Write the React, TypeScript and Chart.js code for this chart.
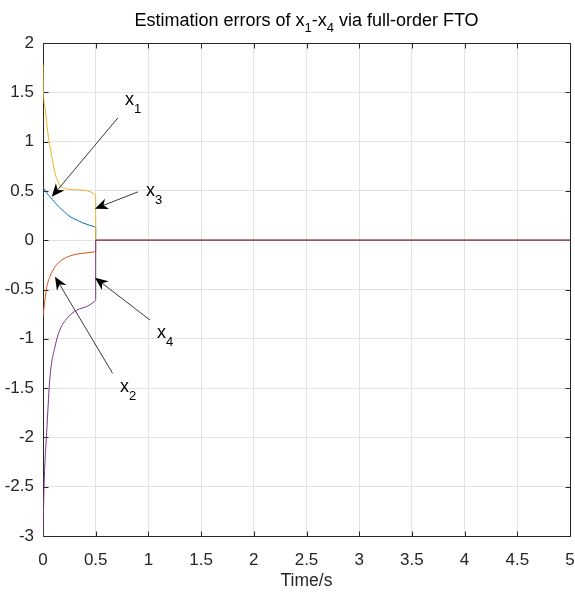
import React, { useEffect, useRef } from 'react';
import { Chart, registerables } from 'chart.js';

Chart.register(...registerables);

// ---- axis ticks ----
const X_TICKS = [0, 0.5, 1, 1.5, 2, 2.5, 3, 3.5, 4, 4.5, 5];
const Y_TICKS = [-3, -2.5, -2, -1.5, -1, -0.5, 0, 0.5, 1, 1.5, 2];

// ---- series (time in s, estimation error) ----
const T_X1 = [0, 0.004, 0.019, 0.047, 0.085, 0.114, 0.16, 0.23, 0.35, 0.45, 0.49, 0.5, 0.5, 5];
const V_X1 = [1.78, 1.52, 1.35, 1.08, 0.84, 0.68, 0.56, 0.52, 0.51, 0.49, 0.465, 0.455, 0, 0];

const T_X2 = [0, 0.035, 0.066, 0.114, 0.18, 0.285, 0.475, 0.5, 0.5, 5];
const V_X2 = [-0.77, -0.48, -0.37, -0.27, -0.2, -0.15, -0.12, -0.115, 0, 0];

const T_X3 = [0, 0.03, 0.066, 0.11, 0.16, 0.21, 0.256, 0.32, 0.38, 0.44, 0.49, 0.5, 0.5, 5];
const V_X3 = [0.54, 0.49, 0.44, 0.385, 0.33, 0.28, 0.24, 0.205, 0.175, 0.152, 0.136, 0.133, 0, 0];

const T_X4 = [0, 0.005, 0.012, 0.038, 0.066, 0.114, 0.16, 0.23, 0.32, 0.42, 0.49, 0.5, 0.5, 5];
const V_X4 = [-3.0, -2.72, -2.43, -1.89, -1.39, -1.08, -0.91, -0.79, -0.71, -0.67, -0.62, -0.61, 0, 0];

// ---- annotations (data coordinates) ----
const ARROW_NAMES = ['1', '3', '2', '4'];
const ARROW_TAIL_T = [0.71, 0.9, 0.66, 1.015];
const ARROW_TAIL_V = [1.24, 0.49, -1.35, -0.81];
const ARROW_HEAD_T = [0.083, 0.493, 0.114, 0.493];
const ARROW_HEAD_V = [0.44, 0.32, -0.37, -0.38];
const LABEL_T = [0.778, 0.977, 0.731, 1.082];
const LABEL_V = [1.372, 0.448, -1.539, -0.992];

const TITLE_PARTS: [string, boolean][] = [
  ['Estimation errors of x', false],
  ['1', true],
  ['-x', false],
  ['4', true],
  [' via full-order FTO', false],
];
const X_LABEL = 'Time/s';

const FONT = '"Liberation Sans", Arial, Helvetica, sans-serif';
const AX = '#262626';

const pts = (t: number[], v: number[]) => t.map((x, i) => ({ x, y: v[i] }));

const al = (v: number) => Math.round(v) + 0.5;

const decorPlugin = {
  id: 'decor',
  beforeDatasetsDraw(chart: any) {
    const ctx: CanvasRenderingContext2D = chart.ctx;
    const { left, right, top, bottom } = chart.chartArea;
    const xs = chart.scales.x;
    const ys = chart.scales.y;
    ctx.save();
    ctx.strokeStyle = AX;
    ctx.lineWidth = 1;
    ctx.beginPath();
    ctx.rect(al(left), al(top), Math.round(right) - Math.round(left), Math.round(bottom) - Math.round(top));
    ctx.stroke();
    const tl = 5;
    ctx.beginPath();
    X_TICKS.forEach((v) => {
      const p = al(xs.getPixelForValue(v));
      ctx.moveTo(p, al(bottom));
      ctx.lineTo(p, al(bottom) - tl);
      ctx.moveTo(p, al(top));
      ctx.lineTo(p, al(top) + tl);
    });
    Y_TICKS.forEach((v) => {
      const p = al(ys.getPixelForValue(v));
      ctx.moveTo(al(left), p);
      ctx.lineTo(al(left) + tl, p);
      ctx.moveTo(al(right), p);
      ctx.lineTo(al(right) - tl, p);
    });
    ctx.stroke();
    ctx.restore();
  },
  afterDraw(chart: any) {
    const ctx: CanvasRenderingContext2D = chart.ctx;
    const { left, right } = chart.chartArea;
    const xs = chart.scales.x;
    const ys = chart.scales.y;
    ctx.save();

    // title with subscripts
    const mainF = `18px ${FONT}`;
    const subF = `13px ${FONT}`;
    let w = 0;
    TITLE_PARTS.forEach(([s, sub]) => {
      ctx.font = sub ? subF : mainF;
      w += ctx.measureText(s).width;
    });
    let x = (left + right) / 2 - w / 2;
    const base = 26;
    ctx.fillStyle = '#000';
    ctx.textBaseline = 'alphabetic';
    ctx.textAlign = 'left';
    TITLE_PARTS.forEach(([s, sub]) => {
      ctx.font = sub ? subF : mainF;
      ctx.fillText(s, x, sub ? base + 6 : base);
      x += ctx.measureText(s).width;
    });

    // x label
    ctx.font = `17.5px ${FONT}`;
    ctx.fillStyle = AX;
    ctx.textAlign = 'center';
    ctx.fillText(X_LABEL, (left + right) / 2, 586);

    // arrows
    ARROW_NAMES.forEach((name, i) => {
      const tx = xs.getPixelForValue(ARROW_TAIL_T[i]);
      const ty = ys.getPixelForValue(ARROW_TAIL_V[i]);
      const hx = xs.getPixelForValue(ARROW_HEAD_T[i]);
      const hy = ys.getPixelForValue(ARROW_HEAD_V[i]);
      const dx = hx - tx;
      const dy = hy - ty;
      const len = Math.hypot(dx, dy);
      const ux = dx / len;
      const uy = dy / len;
      const px = -uy;
      const py = ux;
      const L = 13;
      const W = 5.5;
      const nx = hx - ux * L * 0.7;
      const ny = hy - uy * L * 0.7;
      ctx.strokeStyle = '#222';
      ctx.lineWidth = 0.9;
      ctx.beginPath();
      ctx.moveTo(tx, ty);
      ctx.lineTo(nx, ny);
      ctx.stroke();
      ctx.fillStyle = '#000';
      ctx.beginPath();
      ctx.moveTo(hx, hy);
      ctx.lineTo(hx - ux * L + px * W, hy - uy * L + py * W);
      ctx.lineTo(nx, ny);
      ctx.lineTo(hx - ux * L - px * W, hy - uy * L - py * W);
      ctx.closePath();
      ctx.fill();

      const lx = xs.getPixelForValue(LABEL_T[i]);
      const ly = ys.getPixelForValue(LABEL_V[i]);
      ctx.textAlign = 'left';
      ctx.fillStyle = '#000';
      ctx.font = `18px ${FONT}`;
      ctx.fillText('x', lx, ly);
      const xw = ctx.measureText('x').width;
      ctx.font = `13px ${FONT}`;
      ctx.fillText(name, lx + xw, ly + 8);
    });
    ctx.restore();
  },
};

export default function App() {
  const ref = useRef<HTMLCanvasElement>(null);
  useEffect(() => {
    document.body.style.margin = '0';
    const canvas = ref.current!;
    const line = (label: string, color: string, t: number[], v: number[]) => ({
      label,
      data: pts(t, v),
      borderColor: color,
      backgroundColor: color,
      borderWidth: 1,
      pointRadius: 0,
      fill: false,
      cubicInterpolationMode: 'monotone' as const,
    });
    const chart = new Chart(canvas, {
      type: 'line',
      data: {
        datasets: [
          line('x4', '#7E2F8E', T_X4, V_X4),
          line('x1', '#EDB120', T_X1, V_X1),
          line('x2', '#D95319', T_X2, V_X2),
          line('x3', '#0072BD', T_X3, V_X3),
        ],
      },
      options: {
        responsive: false,
        animation: false,
        devicePixelRatio: 1,
        parsing: false as any,
        layout: { padding: { top: 43, right: 5, left: 0, bottom: 0 } },
        plugins: {
          legend: { display: false },
          tooltip: { enabled: false },
          title: { display: false },
        },
        scales: {
          x: {
            type: 'linear',
            min: 0,
            max: 5,
            afterBuildTicks: (s: any) => {
              s.ticks = X_TICKS.map((value) => ({ value }));
            },
            afterFit: (s: any) => {
              s.height = 59;
              s.paddingLeft = 0;
              s.paddingRight = 0;
            },
            grid: { color: '#e3e3e3', drawTicks: false },
            border: { display: false },
            ticks: {
              font: { family: FONT, size: 17 },
              color: AX,
              padding: 14,
              maxRotation: 0,
              autoSkip: false,
              callback: (v: any) => String(v),
            },
          },
          y: {
            type: 'linear',
            min: -3,
            max: 2,
            afterBuildTicks: (s: any) => {
              s.ticks = Y_TICKS.map((value) => ({ value }));
            },
            afterFit: (s: any) => {
              s.width = 43;
              s.paddingTop = 0;
              s.paddingBottom = 0;
            },
            grid: { color: '#e3e3e3', drawTicks: false },
            border: { display: false },
            ticks: {
              font: { family: FONT, size: 17 },
              color: AX,
              padding: 9,
              autoSkip: false,
              callback: (v: any) => String(v),
            },
          },
        },
      },
      plugins: [decorPlugin],
    });
    return () => chart.destroy();
  }, []);
  return (
    <div style={{ width: 575, height: 595, background: '#fff' }}>
      <canvas ref={ref} width={575} height={595} style={{ display: 'block', width: 575, height: 595 }} />
    </div>
  );
}
